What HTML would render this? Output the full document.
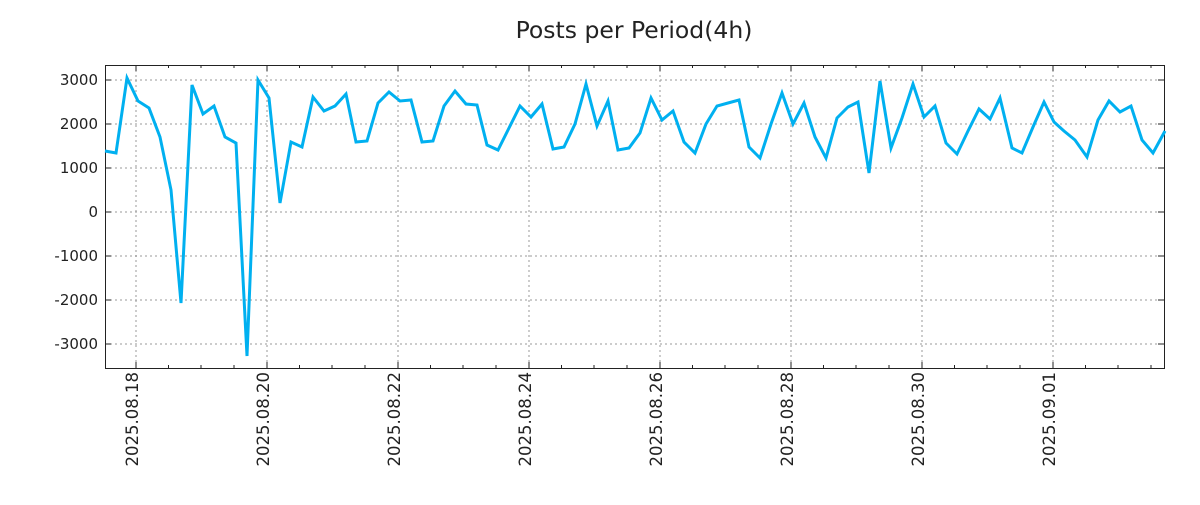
<!DOCTYPE html><html><head><style>body{margin:0;background:#fff}</style></head><body>
<svg width="1200" height="500" xmlns="http://www.w3.org/2000/svg" font-family="DejaVu Sans, Liberation Sans, sans-serif">
<rect width="1200" height="500" fill="#fff"/>
<text x="634" y="38" font-size="23.5" text-anchor="middle" fill="#222">Posts per Period(4h)</text>
<g stroke="#999" stroke-dasharray="2,3" stroke-width="1">
<line x1="105" x2="1164" y1="80" y2="80"/><line x1="105" x2="1164" y1="124" y2="124"/><line x1="105" x2="1164" y1="168" y2="168"/><line x1="105" x2="1164" y1="212" y2="212"/><line x1="105" x2="1164" y1="256" y2="256"/><line x1="105" x2="1164" y1="300" y2="300"/><line x1="105" x2="1164" y1="344" y2="344"/>
<line y1="65" y2="368" x1="136" x2="136"/><line y1="65" y2="368" x1="267" x2="267"/><line y1="65" y2="368" x1="398" x2="398"/><line y1="65" y2="368" x1="529" x2="529"/><line y1="65" y2="368" x1="660" x2="660"/><line y1="65" y2="368" x1="791" x2="791"/><line y1="65" y2="368" x1="922" x2="922"/><line y1="65" y2="368" x1="1053" x2="1053"/>
</g>
<g stroke="#222" stroke-width="1">
<path d="M136 368v-6M267 368v-6M398 368v-6M529 368v-6M660 368v-6M791 368v-6M922 368v-6M1053 368v-6M136 65v6M267 65v6M398 65v6M529 65v6M660 65v6M791 65v6M922 65v6M1053 65v6"/>
<path d="M168.5 368v-3M201 368v-3M234 368v-3M299.5 368v-3M332 368v-3M365 368v-3M430.5 368v-3M463 368v-3M496 368v-3M561.5 368v-3M594 368v-3M627 368v-3M692.5 368v-3M725 368v-3M758 368v-3M823.5 368v-3M856 368v-3M889 368v-3M954.5 368v-3M987 368v-3M1020 368v-3M1085.5 368v-3M1118 368v-3M1151 368v-3M168.5 65v3M201 65v3M234 65v3M299.5 65v3M332 65v3M365 65v3M430.5 65v3M463 65v3M496 65v3M561.5 65v3M594 65v3M627 65v3M692.5 65v3M725 65v3M758 65v3M823.5 65v3M856 65v3M889 65v3M954.5 65v3M987 65v3M1020 65v3M1085.5 65v3M1118 65v3M1151 65v3"/>
<path d="M105 80h6M105 124h6M105 168h6M105 212h6M105 256h6M105 300h6M105 344h6M1164 80h-6M1164 124h-6M1164 168h-6M1164 212h-6M1164 256h-6M1164 300h-6M1164 344h-6"/>
</g>
<rect x="105.5" y="65.5" width="1059" height="303" fill="none" stroke="#222"/>
<g font-size="15" fill="#222" text-anchor="end">
<text x="98" y="85">3000</text><text x="98" y="129">2000</text><text x="98" y="173">1000</text><text x="98" y="217">0</text><text x="98" y="261">-1000</text><text x="98" y="305">-2000</text><text x="98" y="349">-3000</text>
</g>
<g font-size="16.5" fill="#222" text-anchor="end">
<text transform="translate(138,372) rotate(-90)">2025.08.18</text>
<text transform="translate(269,372) rotate(-90)">2025.08.20</text>
<text transform="translate(400,372) rotate(-90)">2025.08.22</text>
<text transform="translate(531,372) rotate(-90)">2025.08.24</text>
<text transform="translate(662,372) rotate(-90)">2025.08.26</text>
<text transform="translate(793,372) rotate(-90)">2025.08.28</text>
<text transform="translate(924,372) rotate(-90)">2025.08.30</text>
<text transform="translate(1055,372) rotate(-90)">2025.09.01</text>
</g>
<polyline fill="none" stroke="#00b0f0" stroke-width="3" stroke-linejoin="miter" points="105,151 116,153 127,78 138,101 149,108 160,137 171,190 181,303 192,85 203,114 214,106 225,137 236,143 247,356 258,80 269,98 280,203 291,142 302,147 313,97 324,111 335,106 346,94 356,142 367,141 378,103 389,92 400,101 411,100 422,142 433,141 444,106 455,91 466,104 477,105 487,145 498,150 509,128 520,106 531,117 542,104 553,149 564,147 575,124 586,84 597,126 608,101 618,150 629,148 640,133 651,98 662,120 673,111 684,142 695,153 706,124 717,106 728,103 739,100 749,147 760,158 771,124 782,93 793,124 804,103 815,137 826,158 837,118 848,107 858,102 869,173 880,81 891,148 902,118 913,84 924,117 935,106 946,143 957,154 968,131 979,109 990,119 1000,98 1012,148 1022,153 1033,127 1044,102 1054,122 1064,131 1075,140 1087,157 1098,120 1109,101 1120,112 1131,106 1142,140 1153,153 1165,131"/>
</svg>
</body></html>
